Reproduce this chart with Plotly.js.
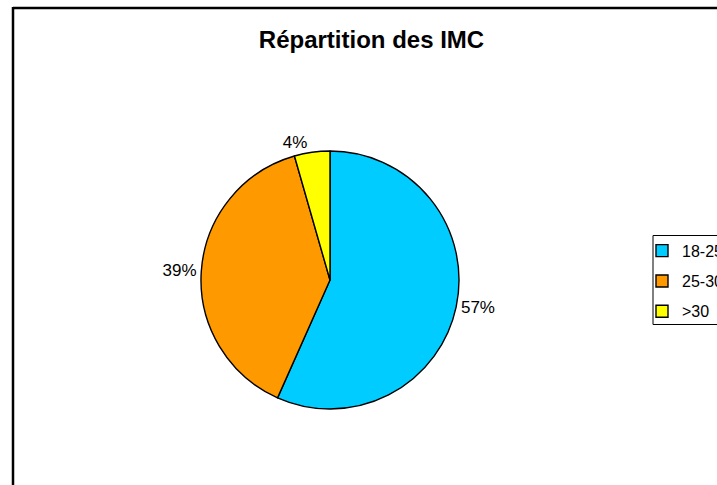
<!DOCTYPE html>
<html>
<head>
<meta charset="utf-8">
<script src="https://cdn.plot.ly/plotly-3.0.1.min.js"></script>
<style>html,body{margin:0;padding:0;background:#fff;overflow:hidden;}#chart{width:800px;height:485px;}</style>
</head>
<body>
<div id="chart"></div>
<script>
const chartTitle = "Répartition des IMC";
const categories = ["18-25", "25-30", ">30"];
const values = [51, 35, 4];
const colors = ["#00CCFF", "#FF9900", "#FFFF00"];

const W = 800, H = 485;
const cx = 330, cy = 280, r = 129;
const FONT = "Liberation Sans, Arial, sans-serif";

const legendLabels = categories.map(c => '<span style="font-size:16px;baseline-shift:2px">' + c + '</span>');

const trace = {
  type: "pie",
  labels: legendLabels,
  values: values,
  sort: false,
  direction: "clockwise",
  rotation: 0,
  marker: { colors: colors, line: { color: "#000", width: 1.4 } },
  textinfo: "percent",
  texttemplate: "%{percent:.0%}",
  textposition: "outside",
  textfont: { family: FONT, size: 17, color: "#000" },
  hoverinfo: "percent",
  domain: { x: [(cx - r) / W, (cx + r) / W], y: [(H - cy - r) / H, (H - cy + r) / H] },
  automargin: false
};

const layout = {
  width: W, height: H,
  margin: { l: 0, r: 0, t: 0, b: 0 },
  paper_bgcolor: "#fff",
  font: { family: FONT, color: "#000" },
  title: {
    text: "<b>" + chartTitle + "</b>",
    font: { family: FONT, size: 24, color: "#000" },
    x: 371.5 / W, xanchor: "center", xref: "paper",
    y: 1 - 39.5 / H, yanchor: "middle", yref: "container"
  },
  showlegend: true,
  legend: {
    x: 642 / W, xanchor: "left", y: 1 - 230.5 / H, yanchor: "top",
    bgcolor: "rgba(0,0,0,0)", borderwidth: 0,
    font: { family: FONT, size: 21, color: "#000" },
    traceorder: "normal"
  },
  shapes: [
    { type: "line", xref: "paper", yref: "paper", x0: 13 / W, x1: 1.05, y0: 1 - 8 / H, y1: 1 - 8 / H, line: { color: "#000", width: 2.5 } },
    { type: "line", xref: "paper", yref: "paper", x0: 13 / W, x1: 13 / W, y0: 1 - 7 / H, y1: -0.05, line: { color: "#000", width: 2.5 } },
    { type: "rect", xref: "paper", yref: "paper", layer: "below", x0: 653 / W, x1: 1.05, y0: 1 - 235.5 / H, y1: 1 - 324.5 / H, line: { color: "#000", width: 1 }, fillcolor: "#fff" }
  ]
};

Plotly.newPlot("chart", [trace], layout, { staticPlot: true, displayModeBar: false });
</script>
</body>
</html>
